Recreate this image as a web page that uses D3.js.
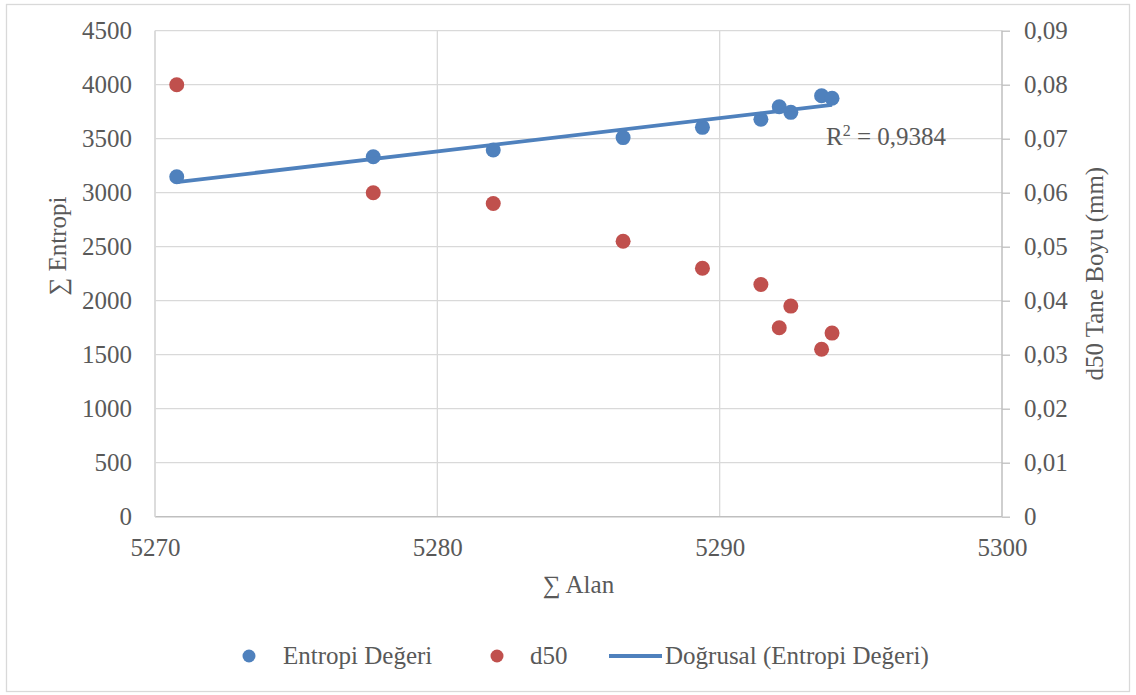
<!DOCTYPE html>
<html>
<head>
<meta charset="utf-8">
<script src="https://cdn.jsdelivr.net/npm/d3@7"></script>
<style>
  html, body { margin: 0; padding: 0; background: #fff; }
  svg { display: block; }
  svg text { font-family: 'Liberation Serif', 'DejaVu Serif', serif; fill: #595959; }
</style>
</head>
<body>
<svg id="chart" width="1136" height="695"></svg>
<script>
// Total area (∑ Alan) for each sample
const alan = [5270.77, 5277.73, 5281.98, 5286.58, 5289.39, 5291.46, 5292.11, 5292.52, 5293.61, 5293.98];
// Total entropy (∑ Entropi), left axis
const entropi = [3148, 3333, 3395, 3510, 3605, 3680, 3796, 3744, 3898, 3874];
// d50 grain size in mm, right axis
const d50 = [0.080, 0.060, 0.058, 0.051, 0.046, 0.043, 0.035, 0.039, 0.031, 0.034];

const xTicks = [5270, 5280, 5290, 5300];
const yLeftTicks = [0, 500, 1000, 1500, 2000, 2500, 3000, 3500, 4000, 4500];
const yRightTicks = [0, 0.01, 0.02, 0.03, 0.04, 0.05, 0.06, 0.07, 0.08, 0.09];
const r2Label = "0,9384";

const blue = "#4f81bd", red = "#c0504d", grid = "#d9d9d9", axisCol = "#bfbfbf";

const svg = d3.select("#chart");
const plot = { left: 155, right: 1002, top: 30.7, bottom: 516.7 };

const x = d3.scaleLinear().domain([5270, 5300]).range([plot.left, plot.right]);
const yL = d3.scaleLinear().domain([0, 4500]).range([plot.bottom, plot.top]);
const yR = d3.scaleLinear().domain([0, 0.09]).range([plot.bottom, plot.top]);

const comma = v => d3.format("")(v).replace(".", ",");

// outer chart frame
svg.append("rect").attr("x", 6.5).attr("y", 4.5).attr("width", 1123).attr("height", 687)
  .attr("fill", "#fff").attr("stroke", grid).attr("stroke-width", 1.3);

// horizontal gridlines
svg.append("g").selectAll("line").data(yLeftTicks.slice(1)).join("line")
  .attr("x1", plot.left).attr("x2", plot.right)
  .attr("y1", d => yL(d)).attr("y2", d => yL(d))
  .attr("stroke", grid).attr("stroke-width", 1.3);

// vertical gridlines
svg.append("g").selectAll("line").data(xTicks.slice(0, -1)).join("line")
  .attr("y1", plot.top).attr("y2", plot.bottom)
  .attr("x1", d => x(d)).attr("x2", d => x(d))
  .attr("stroke", grid).attr("stroke-width", 1.3);

// left axis (labels only)
const gL = svg.append("g").attr("transform", `translate(${plot.left},0)`)
  .call(d3.axisLeft(yL).tickValues(yLeftTicks).tickSize(0).tickPadding(23).tickFormat(d3.format("d")));
gL.select(".domain").remove();

// right axis with outer ticks
const gR = svg.append("g").attr("transform", `translate(${plot.right},0)`)
  .call(d3.axisRight(yR).tickValues(yRightTicks).tickSize(8).tickPadding(14).tickFormat(comma));
gR.select(".domain").attr("stroke", axisCol).attr("stroke-width", 1.5).attr("d", `M0,${plot.top}V${plot.bottom}`);
gR.selectAll(".tick line").attr("stroke", axisCol).attr("stroke-width", 1.3);

// bottom axis
const gB = svg.append("g").attr("transform", `translate(0,${plot.bottom})`)
  .call(d3.axisBottom(x).tickValues(xTicks).tickSize(0).tickPadding(22).tickFormat(d3.format("d")));
gB.select(".domain").attr("stroke", axisCol).attr("stroke-width", 1.5).attr("d", `M${plot.left},0H${plot.right}`);

[gL, gR, gB].forEach(g => {
  g.attr("font-family", null).attr("font-size", null);
  g.selectAll(".tick text").style("font-size", "25px").attr("fill", null);
});

// left axis line
svg.append("line").attr("x1", plot.left).attr("x2", plot.left).attr("y1", plot.top).attr("y2", plot.bottom)
  .attr("stroke", grid).attr("stroke-width", 1.5);

// axis titles
svg.append("text").attr("x", (plot.left + plot.right) / 2).attr("y", 593)
  .attr("text-anchor", "middle").style("font-size", "25px").text("∑ Alan");
svg.append("text").attr("transform", `translate(66,246) rotate(-90)`)
  .attr("text-anchor", "middle").style("font-size", "25px").text("∑ Entropi");
svg.append("text").attr("transform", `translate(1103,${(plot.top + plot.bottom) / 2}) rotate(-90)`)
  .attr("text-anchor", "middle").style("font-size", "25px").text("d50 Tane Boyu (mm)");

// linear trend of entropy vs area (least squares)
const mx = d3.mean(alan), my = d3.mean(entropi);
const sxy = d3.sum(alan, (a, i) => (a - mx) * (entropi[i] - my));
const sxx = d3.sum(alan, a => (a - mx) ** 2);
const slope = sxy / sxx, icept = my - slope * mx;
const xExt = d3.extent(alan);
const line = d3.line().x(d => x(d)).y(d => yL(icept + slope * d));

// d50 points
svg.append("g").selectAll("circle").data(alan).join("circle")
  .attr("cx", d => x(d)).attr("cy", (d, i) => yR(d50[i])).attr("r", 7.5).attr("fill", red);

// entropy points
svg.append("g").selectAll("circle").data(alan).join("circle")
  .attr("cx", d => x(d)).attr("cy", (d, i) => yL(entropi[i])).attr("r", 7.5).attr("fill", blue);

// trend line
svg.append("path").datum(xExt).attr("d", line)
  .attr("fill", "none").attr("stroke", blue).attr("stroke-width", 3.8);

// R² label
const r2 = svg.append("text").attr("x", 826).attr("y", 145).style("font-size", "25px");
r2.append("tspan").text("R");
r2.append("tspan").attr("dy", -9).style("font-size", "16px").text("2");
r2.append("tspan").attr("dy", 9).text(" = " + r2Label);

// legend
const leg = svg.append("g");
const ly = 656;
leg.append("circle").attr("cx", 249).attr("cy", ly).attr("r", 6.5).attr("fill", blue);
leg.append("text").attr("x", 283).attr("y", ly).attr("dy", "0.33em").style("font-size", "25px").text("Entropi Değeri");
leg.append("circle").attr("cx", 497).attr("cy", ly).attr("r", 6.5).attr("fill", red);
leg.append("text").attr("x", 530).attr("y", ly).attr("dy", "0.33em").style("font-size", "25px").text("d50");
leg.append("line").attr("x1", 609).attr("x2", 662).attr("y1", ly).attr("y2", ly)
  .attr("stroke", blue).attr("stroke-width", 3.8);
leg.append("text").attr("x", 665).attr("y", ly).attr("dy", "0.33em").style("font-size", "25px").text("Doğrusal (Entropi Değeri)");
</script>
</body>
</html>
